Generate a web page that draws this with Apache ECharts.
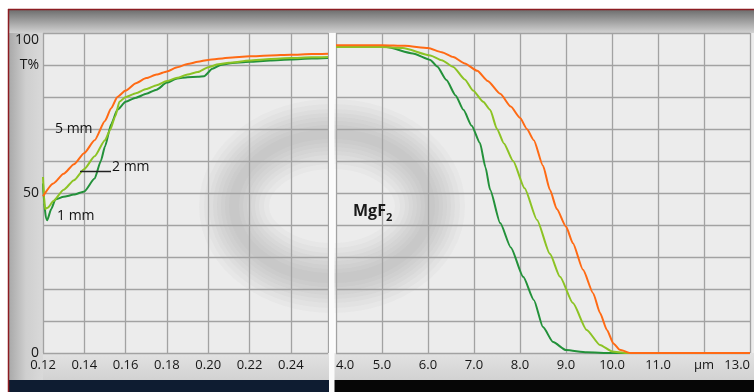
<!DOCTYPE html>
<html>
<head>
<meta charset="utf-8">
<script src="https://cdn.jsdelivr.net/npm/echarts@6/dist/echarts.min.js"></script>
<style>
html, body { margin: 0; padding: 0; background: #fff; }
#chart { width: 754px; height: 392px; }
</style>
</head>
<body>
<div id="chart"></div>
<script>
// left panel: vacuum UV, wavelength in µm
const uv1mmX = [0.120, 0.1205, 0.1215, 0.122, 0.124, 0.126, 0.130, 0.135, 0.140, 0.145, 0.148, 0.150, 0.153, 0.156, 0.160, 0.165, 0.170, 0.175, 0.180, 0.185, 0.190, 0.195, 0.198, 0.202, 0.206, 0.210, 0.220, 0.230, 0.240, 0.250, 0.258];
const uv1mmT = [53, 47, 42, 41.5, 45, 48, 48.8, 49.5, 50.5, 54.5, 60, 64.5, 71.5, 76, 78.5, 79.8, 81, 82.3, 84.5, 85.8, 86.2, 86.3, 86.5, 88.8, 90, 90.5, 91, 91.4, 91.7, 92, 92.2];

const uv2mmX = [0.120, 0.1205, 0.121, 0.1225, 0.125, 0.130, 0.135, 0.140, 0.145, 0.150, 0.1525, 0.155, 0.157, 0.160, 0.165, 0.170, 0.175, 0.180, 0.185, 0.190, 0.195, 0.200, 0.205, 0.210, 0.220, 0.230, 0.240, 0.250, 0.258];
const uv2mmT = [55, 49, 45, 45.5, 47.5, 51, 54, 57.5, 61.5, 66.5, 69.7, 74, 78.5, 80, 81.2, 82.5, 83.7, 85, 86, 87, 87.8, 89.3, 90.2, 90.7, 91.4, 91.9, 92.2, 92.4, 92.5];

const uv5mmX = [0.120, 0.125, 0.130, 0.135, 0.140, 0.145, 0.150, 0.153, 0.156, 0.160, 0.165, 0.170, 0.175, 0.180, 0.185, 0.190, 0.195, 0.200, 0.210, 0.220, 0.230, 0.240, 0.250, 0.258];
const uv5mmT = [49, 53, 56, 59, 62.5, 66.5, 72.5, 76.5, 80, 82, 84.3, 85.9, 87, 88, 89.3, 90.3, 91, 91.6, 92.3, 92.7, 93, 93.2, 93.4, 93.5];

// right panel: infrared, wavelength in µm
const ir1mmX = [4.0, 5.1, 5.67, 6.05, 6.2, 6.4, 6.6, 6.77, 6.95, 7.13, 7.25, 7.35, 7.57, 7.8, 8.07, 8.3, 8.5, 8.72, 9.0, 9.45, 10.0, 13.0];
const ir1mmT = [95.8, 95.6, 93.6, 91.6, 89.5, 85.3, 80.5, 76, 71, 65.6, 58, 51, 40.6, 33, 23.8, 16.6, 8.1, 3.4, 0.9, 0.2, 0, 0];

const ir2mmX = [4.0, 5.0, 5.45, 6.05, 6.3, 6.55, 6.8, 6.98, 7.2, 7.35, 7.5, 7.65, 7.85, 8.1, 8.37, 8.65, 8.87, 9.15, 9.45, 9.74, 10.0, 10.3, 13.0];
const ir2mmT = [95.6, 95.6, 95.3, 93, 91.5, 89.4, 85.5, 82, 78.5, 76, 70, 65.5, 60, 51.5, 41.6, 31, 23.8, 15.6, 7.2, 2.5, 0.5, 0, 0];

const ir5mmX = [4.0, 5.0, 5.5, 6.0, 6.3, 6.55, 6.8, 7.07, 7.3, 7.57, 7.8, 8.0, 8.15, 8.3, 8.5, 8.65, 8.8, 9.0, 9.15, 9.37, 9.59, 9.74, 9.89, 10.03, 10.17, 10.4, 13.0];
const ir5mmT = [96.2, 96.2, 96, 95.3, 94, 92.5, 90.5, 88.2, 85, 81, 77, 73.5, 70, 66.5, 58.5, 51, 45, 39.5, 34.3, 26, 18.7, 12.5, 7.2, 3, 1, 0, 0];

const yLabels = { 100: '{top|100}', 90: 'T%', 50: '50', 0: '0' };
const thickLabels = ['5 mm', '2 mm', '1 mm'];

const colors = { mm1: '#23913a', mm2: '#8cc324', mm5: '#ff6a14' };

function pairs(xs, ys) {
    return xs.map(function (x, i) { return [x, ys[i]]; });
}

function lineSeries(name, xs, ys, color, idx) {
    return {
        name: name,
        type: 'line',
        xAxisIndex: idx,
        yAxisIndex: idx,
        showSymbol: false,
        smooth: 0.2,
        smoothMonotone: 'x',
        lineStyle: { color: color, width: 2 },
        data: pairs(xs, ys),
        z: 3,
    };
}

const gridLine = { show: true, lineStyle: { color: '#a2a2a2', width: 1.3 } };
const labelFont = 'Open Sans';

let chart = echarts.init(document.getElementById('chart'));

// soft grey logo watermark behind the grid
let ringEls = [70, 60, 50, 42, 34, 26, 18, 10].map(function (w) {
    return {
        type: 'ellipse',
        z: -5,
        silent: true,
        shape: { cx: 332, cy: 206, rx: 98, ry: 72 },
        style: { fill: 'none', stroke: 'rgba(80,80,80,0.028)', lineWidth: w },
    };
});

let option = {
    animation: false,
    backgroundColor: '#ffffff',
    textStyle: { fontFamily: labelFont },
    grid: [
        { left: 43, right: 426, top: 33, bottom: 39 },
        { left: 336, right: 4, top: 33, bottom: 39 },
    ],
    xAxis: [
        {
            type: 'value', gridIndex: 0,
            min: 0.12, max: 0.258, interval: 0.02,
            axisLine: { show: false }, axisTick: { show: false },
            splitLine: gridLine,
            axisLabel: {
                showMaxLabel: false, margin: 6, fontSize: 13, color: '#161616',
                formatter: function (v) { return v.toFixed(2); },
            },
        },
        {
            type: 'value', gridIndex: 1,
            min: 4, max: 13, interval: 1,
            axisLine: { show: false }, axisTick: { show: false },
            splitLine: gridLine,
            axisLabel: {
                margin: 6, fontSize: 13, color: '#161616',
                alignMinLabel: 'left', alignMaxLabel: 'right',
                formatter: function (v) { return v === 12 ? 'µm' : v.toFixed(1); },
            },
        },
    ],
    yAxis: [
        {
            type: 'value', gridIndex: 0,
            min: 0, max: 100, interval: 10,
            axisLine: { show: false }, axisTick: { show: false },
            splitLine: gridLine,
            axisLabel: {
                margin: 4, fontSize: 14, color: '#161616',
                formatter: function (v) { return yLabels[v] || ''; },
                rich: { top: { fontSize: 14, color: '#161616', padding: [14, 0, 0, 0] } },
            },
        },
        {
            type: 'value', gridIndex: 1,
            min: 0, max: 100, interval: 10,
            axisLine: { show: false }, axisTick: { show: false },
            splitLine: gridLine,
            axisLabel: { show: false },
        },
    ],
    graphic: [
        // frame and bands
        { type: 'rect', z: -10, silent: true, shape: { x: 9, y: 10, width: 745, height: 23 },
          style: { fill: new echarts.graphic.LinearGradient(0, 0, 0, 1, [
              { offset: 0, color: '#6f6f6f' }, { offset: 1, color: '#d2d2d2' }]) } },
        { type: 'rect', z: -10, silent: true, shape: { x: 9, y: 33, width: 34, height: 347 },
          style: { fill: new echarts.graphic.LinearGradient(0, 0, 1, 0, [
              { offset: 0, color: '#a9a9a9' }, { offset: 0.5, color: '#cfcfcf' }, { offset: 1, color: '#d9d9d9' }]) } },
        { type: 'rect', z: -10, silent: true, shape: { x: 43, y: 353, width: 711, height: 27 },
          style: { fill: new echarts.graphic.LinearGradient(0, 0, 0, 1, [
              { offset: 0, color: '#e2e2e2' }, { offset: 1, color: '#d2d2d2' }]) } },
        { type: 'rect', z: -10, silent: true, shape: { x: 43, y: 33, width: 285, height: 320 }, style: { fill: '#ececec' } },
        { type: 'rect', z: -10, silent: true, shape: { x: 336, y: 33, width: 418, height: 320 }, style: { fill: '#ececec' } },
        { type: 'rect', z: -9, silent: true, shape: { x: 9, y: 380, width: 320, height: 12 }, style: { fill: '#0e1c31' } },
        { type: 'rect', z: -9, silent: true, shape: { x: 334, y: 380, width: 420, height: 12 }, style: { fill: '#060606' } },
        { type: 'rect', z: 1, silent: true, shape: { x: 329, y: 33, width: 5.5, height: 359 }, style: { fill: '#fbfbfb' } },
        { type: 'line', z: 1, silent: true, shape: { x1: 8.5, y1: 9, x2: 8.5, y2: 392 }, style: { stroke: '#8c1c22', lineWidth: 1.5 } },
        { type: 'line', z: 1, silent: true, shape: { x1: 8, y1: 9.5, x2: 754, y2: 9.5 }, style: { stroke: '#8c1c22', lineWidth: 1.5 } },
    ].concat(ringEls).concat([
        // annotations
        { type: 'text', z: 10, style: { text: thickLabels[0], x: 55, y: 129, verticalAlign: 'middle', font: '14px "Open Sans"', fill: '#111' } },
        { type: 'line', z: 10, shape: { x1: 80, y1: 171.5, x2: 111, y2: 171.5 }, style: { stroke: '#222', lineWidth: 1.5 } },
        { type: 'text', z: 10, style: { text: thickLabels[1], x: 112, y: 167, verticalAlign: 'middle', font: '14px "Open Sans"', fill: '#111' } },
        { type: 'text', z: 10, style: { text: thickLabels[2], x: 57, y: 216, verticalAlign: 'middle', font: '14px "Open Sans"', fill: '#111' } },
        { type: 'text', z: 10, style: { text: 'MgF', x: 353, y: 211, verticalAlign: 'middle', font: 'bold 16px "Open Sans"', fill: '#1a1a1a' } },
        { type: 'text', z: 10, style: { text: '2', x: 386, y: 218, verticalAlign: 'middle', font: 'bold 11px "Open Sans"', fill: '#1a1a1a' } },
    ]),
    series: [
        lineSeries('1 mm', uv1mmX, uv1mmT, colors.mm1, 0),
        lineSeries('2 mm', uv2mmX, uv2mmT, colors.mm2, 0),
        lineSeries('5 mm', uv5mmX, uv5mmT, colors.mm5, 0),
        lineSeries('1 mm', ir1mmX, ir1mmT, colors.mm1, 1),
        lineSeries('2 mm', ir2mmX, ir2mmT, colors.mm2, 1),
        lineSeries('5 mm', ir5mmX, ir5mmT, colors.mm5, 1),
    ],
};

chart.setOption(option);
</script>
</body>
</html>
